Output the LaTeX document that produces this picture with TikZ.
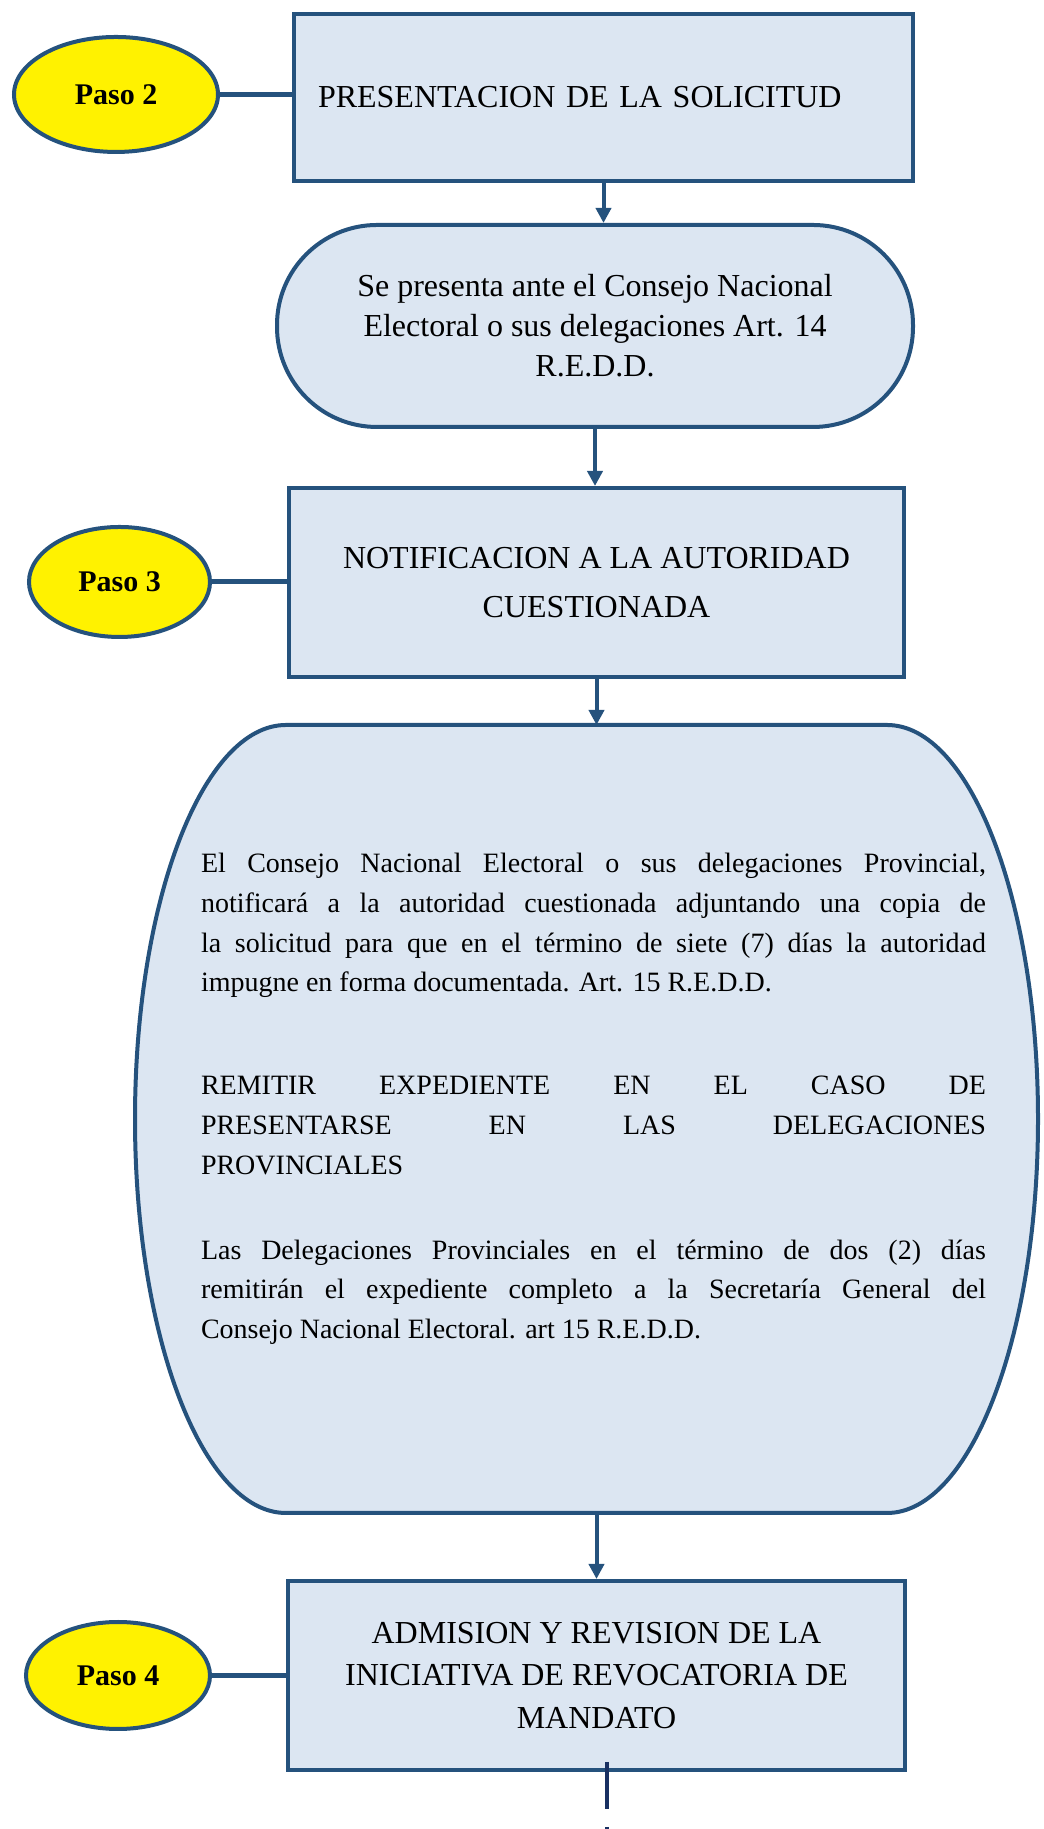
\documentclass[tikz,border=0pt]{standalone}
\usepackage{fontspec}
\setmainfont{Liberation Serif}
\usepackage{xcolor}
\usetikzlibrary{shapes.geometric,arrows.meta}
\definecolor{bordeazul}{RGB}{37,82,125}
\definecolor{fondoazul}{RGB}{220,230,242}
\definecolor{azuloscuro}{RGB}{25,48,98}

\begin{document}
\begin{tikzpicture}[x=0.5pt,y=0.5pt,
    caja/.style={rectangle,draw=bordeazul,fill=fondoazul,line width=2pt,inner sep=0pt,align=center},
    paso/.style={ellipse,draw=bordeazul,fill=yellow,line width=2pt,inner sep=0pt,font=\fontsize{15}{18}\selectfont\bfseries},
    enlace/.style={draw=bordeazul,line width=2.5pt},
    flecha/.style={draw=bordeazul,line width=2pt,-{Triangle[width=7.5pt,length=7.5pt]}},
    cola/.style={draw=azuloscuro,line width=2pt,dash pattern=on 23.5pt off 9pt}]
    \useasboundingbox (0,0) rectangle (1043,1829);
    \node[caja,minimum width=309.5pt,minimum height=83.5pt,text width=285.5pt,align=left,font=\fontsize{16}{20}\selectfont] (sol) at (603.5,1731.5) {PRESENTACION DE LA SOLICITUD};
    \node[paso,minimum width=102pt,minimum height=57.5pt] (paso2) at (116,1734.5) {Paso 2};
    \node[caja,rounded corners=50pt,minimum width=318pt,minimum height=101pt,font=\fontsize{16}{20}\selectfont] (ante) at (595,1503) {Se presenta ante el Consejo Nacional\\ Electoral o sus delegaciones Art. 14\\ R.E.D.D.};
    \node[caja,minimum width=307.5pt,minimum height=94.5pt,font=\fontsize{16}{24.5}\selectfont] (noti) at (596.5,1246.5) {NOTIFICACION A LA AUTORIDAD\\ CUESTIONADA};
    \node[paso,minimum width=90.5pt,minimum height=55pt] (paso3) at (119.5,1247) {Paso 3};
    \coordinate (arriba) at (597,1104);
    \coordinate (abajo) at (597,316);
    \filldraw[draw=bordeazul,fill=fondoazul,line width=2pt] (286,1104) -- (887,1104) arc[start angle=90,end angle=-90,x radius=75.5pt,y radius=197pt] -- (286,316) arc[start angle=270,end angle=90,x radius=75.5pt,y radius=197pt] -- cycle;
    \node[text width=392.5pt,align=justify,inner sep=0pt,font=\fontsize{14}{19.85}\selectfont] (plazo) at (593.5,730) {\tolerance=10000
        El Consejo Nacional Electoral o sus delegaciones Provincial,\linebreak notificará a la autoridad cuestionada adjuntando una copia de\linebreak la solicitud para que en el término de siete (7) días la autoridad\linebreak impugne en forma documentada. Art. 15 R.E.D.D.\par\vspace{31.65pt}
        REMITIR EXPEDIENTE EN EL CASO DE\linebreak PRESENTARSE EN LAS DELEGACIONES\linebreak PROVINCIALES\par\vspace{22.65pt}
        Las Delegaciones Provinciales en el término de dos (2) días\linebreak remitirán el expediente completo a la Secretaría General del\linebreak Consejo Nacional Electoral. art 15 R.E.D.D.\par};
    \node[caja,minimum width=308.5pt,minimum height=94.5pt,font=\fontsize{16}{21.25}\selectfont] (admi) at (596.5,153.5) {ADMISION Y REVISION DE LA\\ INICIATIVA DE REVOCATORIA DE\\ MANDATO};
    \node[paso,minimum width=92pt,minimum height=53.5pt] (paso4) at (118,153.5) {Paso 4};
    \coordinate (fin) at (606.5,-40);
    \draw[enlace] (paso2.east) -- (paso2.east -| sol.west);
    \draw[enlace] (paso3.east) -- (paso3.east -| noti.west);
    \draw[enlace] (paso4.east) -- (paso4.east -| admi.west);
    \draw[flecha] (sol.south) -- (sol.south |- ante.north);
    \draw[flecha] (ante.south) -- (ante.south |- noti.north);
    \draw[flecha] (noti.south) -- (noti.south |- arriba);
    \draw[flecha] (abajo -| admi.north) -- (admi.north);
    \draw[cola] ([xshift=5pt,yshift=5pt]admi.south) -- (fin);
\end{tikzpicture}
\end{document}
